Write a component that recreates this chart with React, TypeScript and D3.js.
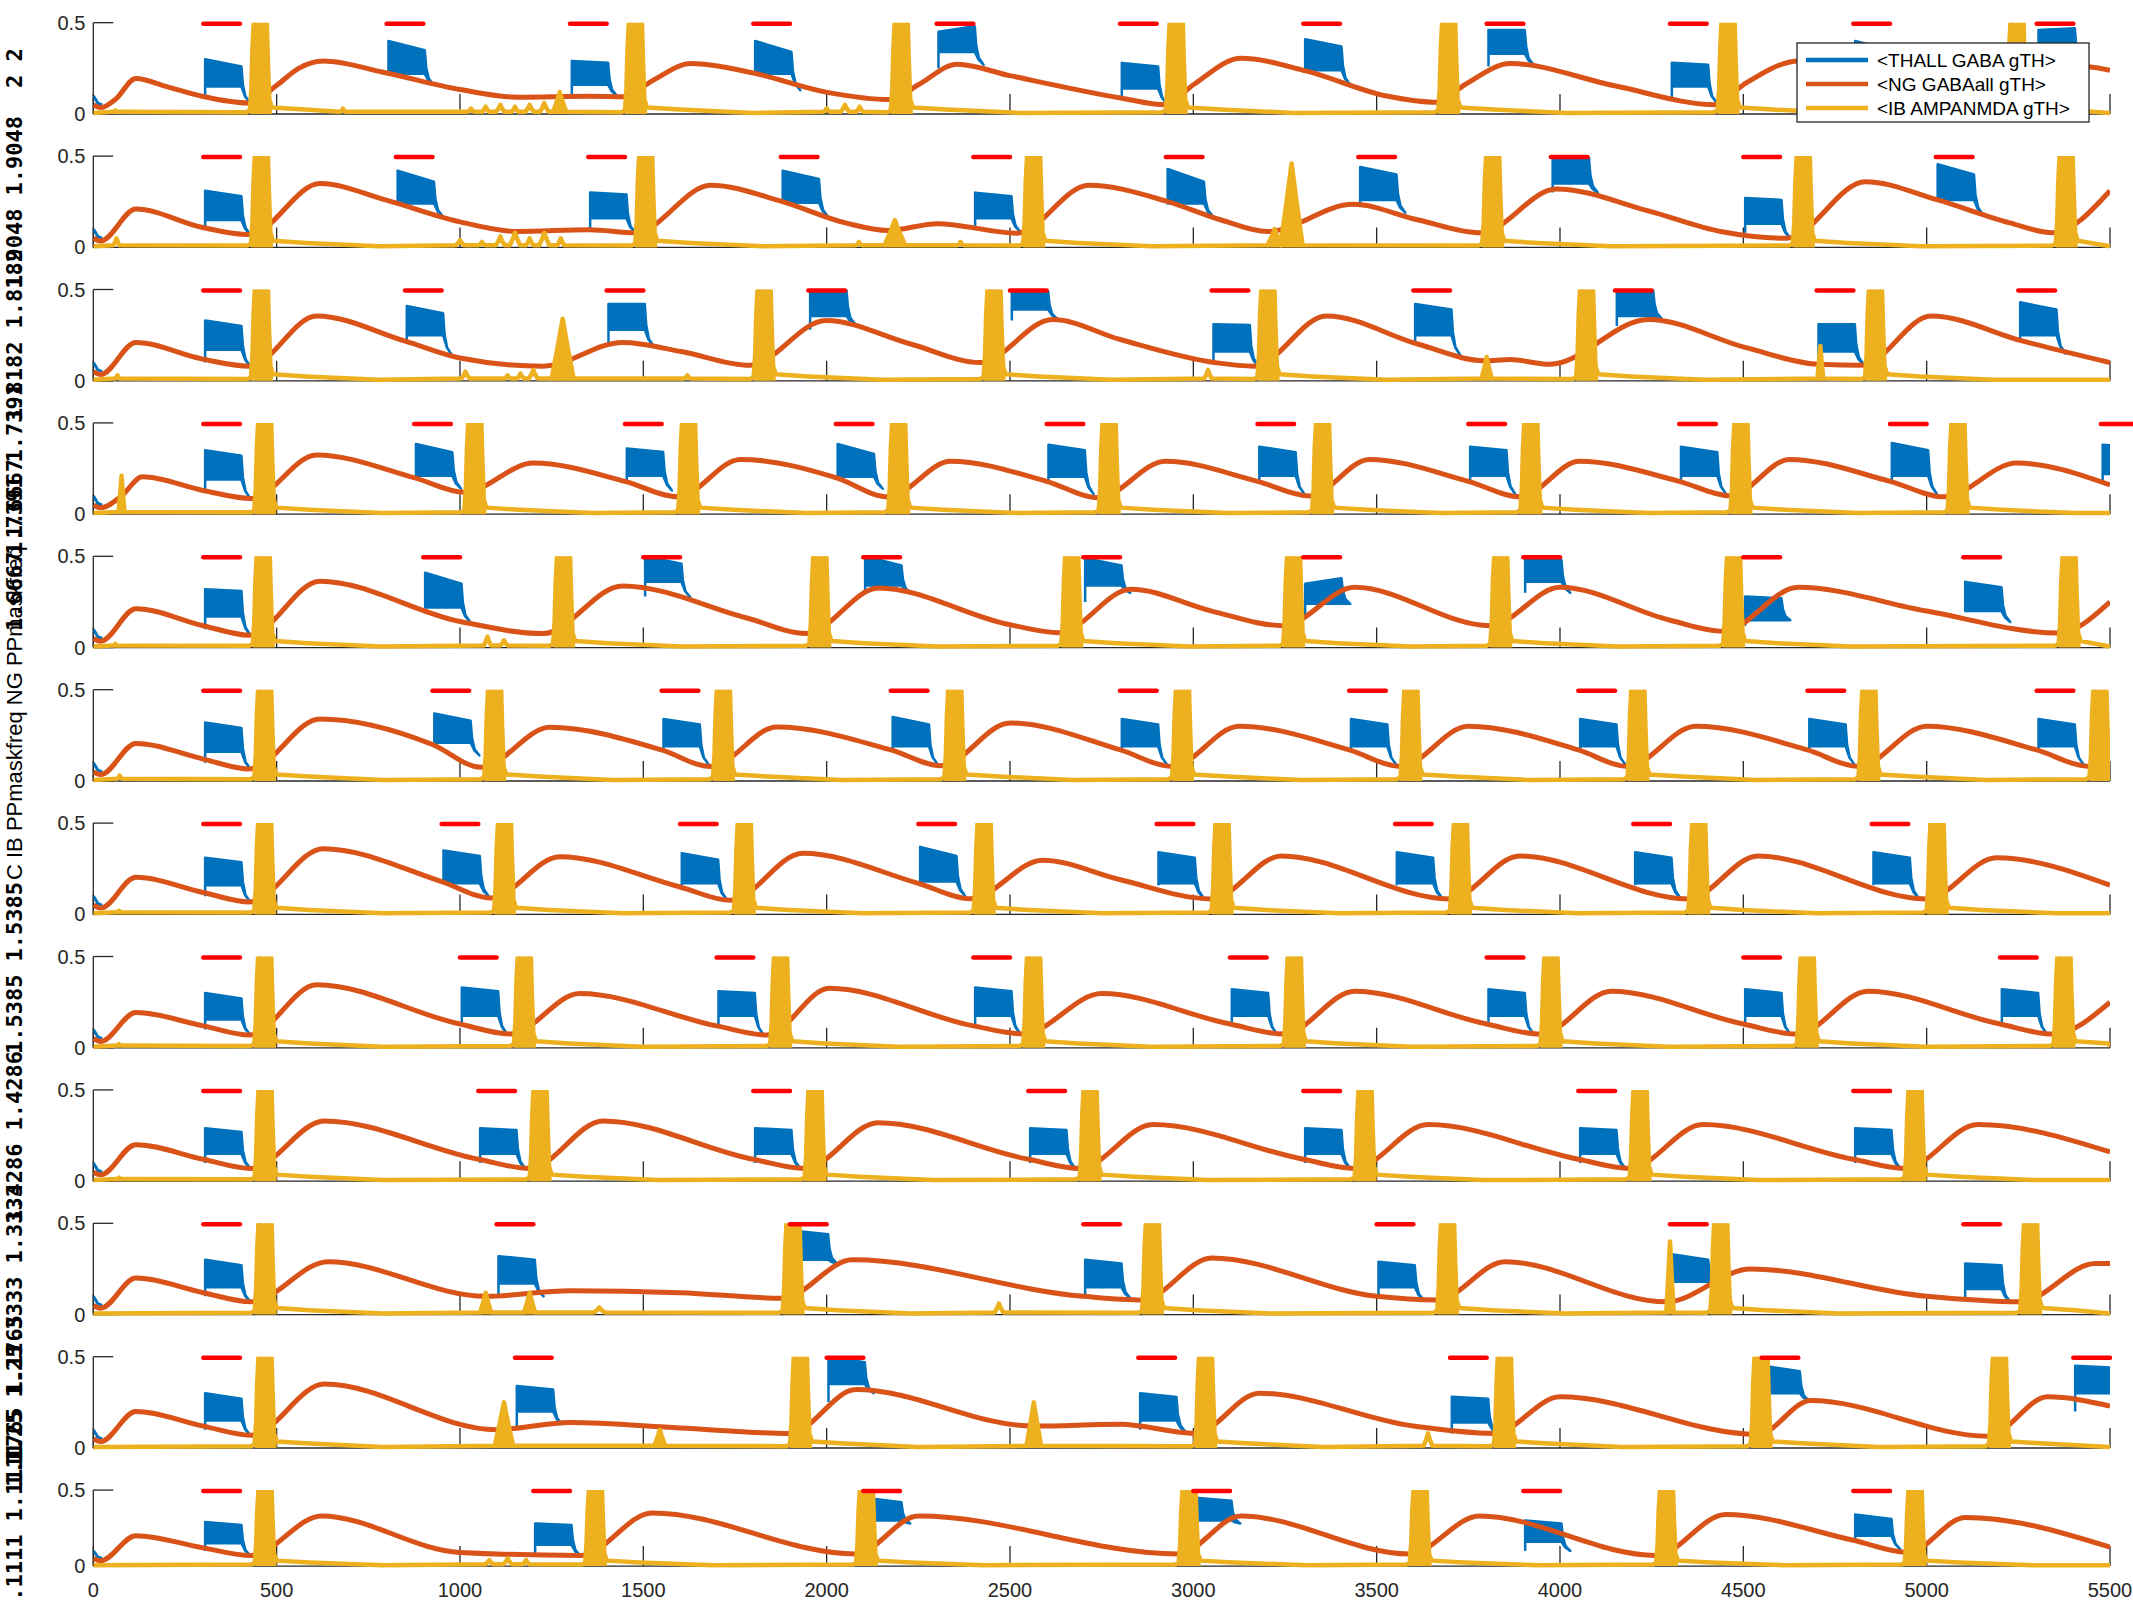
import React, { useEffect, useRef } from 'react';
import * as d3 from 'd3';

// ---- data (times in ms, values in gTH) ----
const panelFreqs = ['2', '1.9048', '1.8182', '1.7391', '1.6667', '1.6', '1.5385', '1.4286', '1.3333', '1.25', '1.1765', '1.1111'];
// where each rotated panel label is centred (px); null = no number label (shared label sits there)
const labelCentres: (number | null)[] = [68, 202, 335, 469, 545, null, 968, 1137, 1270, 1404, 1401, 1528];

const xTickValues = [0, 500, 1000, 1500, 2000, 2500, 3000, 3500, 4000, 4500, 5000, 5500];
const yTickValues = [0, 0.5];
const legendLabels = ['<THALL GABA gTH>', '<NG GABAall gTH>', '<IB AMPANMDA gTH>'];
const sharedLabel = 'C IB PPmaskfreq NG PPmaskfreq';

// stimulus (red bar) onsets for each panel
const stimOnsets: number[][] = [
  [300, 800, 1300, 1800, 2300, 2800, 3300, 3800, 4300, 4800, 5300],
  [300, 825, 1350, 1875, 2400, 2925, 3450, 3975, 4500, 5025],
  [300, 850, 1400, 1950, 2500, 3050, 3600, 4150, 4700, 5250],
  [300, 875, 1450, 2025, 2600, 3175, 3750, 4325, 4900, 5475],
  [300, 900, 1500, 2100, 2700, 3300, 3900, 4500, 5100],
  [300, 925, 1550, 2175, 2800, 3425, 4050, 4675, 5300],
  [300, 950, 1600, 2250, 2900, 3550, 4200, 4850],
  [300, 1000, 1700, 2400, 3100, 3800, 4500, 5200],
  [300, 1050, 1800, 2550, 3300, 4050, 4800],
  [300, 1100, 1900, 2700, 3500, 4300, 5100],
  [300, 1150, 2000, 2850, 3700, 4550, 5400],
  [300, 1200, 2100, 3000, 3900, 4800],
];

// THALL GABA blocks, one per stimulus: [top at start, top at end, lower edge, level under block, level after decay]
const thallBlocks: number[][][] = [
  [[0.30, 0.26, 0.15, 0.10, 0.06], [0.40, 0.35, 0.22, 0.22, 0.16], [0.29, 0.28, 0.16, 0.10, 0.10], [0.40, 0.34, 0.22, 0.22, 0.13], [0.45, 0.48, 0.34, 0.25, 0.27], [0.28, 0.26, 0.14, 0.09, 0.055], [0.41, 0.37, 0.24, 0.235, 0.16], [0.46, 0.46, 0.33, 0.26, 0.27], [0.28, 0.27, 0.15, 0.08, 0.06], [0.40, 0.35, 0.22, 0.25, 0.17], [0.46, 0.47, 0.33, 0.25, 0.27]],
  [[0.31, 0.28, 0.15, 0.10, 0.07], [0.42, 0.36, 0.24, 0.25, 0.17], [0.30, 0.29, 0.16, 0.097, 0.08], [0.42, 0.375, 0.245, 0.255, 0.17], [0.30, 0.28, 0.16, 0.10, 0.085], [0.43, 0.36, 0.24, 0.255, 0.17], [0.44, 0.40, 0.26, 0.236, 0.19], [0.50, 0.49, 0.35, 0.30, 0.30], [0.27, 0.26, 0.13, 0.08, 0.05], [0.455, 0.40, 0.26, 0.26, 0.18]],
  [[0.33, 0.30, 0.17, 0.10, 0.08], [0.41, 0.37, 0.25, 0.217, 0.14], [0.42, 0.42, 0.28, 0.19, 0.19], [0.50, 0.50, 0.355, 0.28, 0.31], [0.50, 0.49, 0.39, 0.33, 0.34], [0.31, 0.305, 0.16, 0.10, 0.08], [0.42, 0.39, 0.25, 0.20, 0.14], [0.50, 0.50, 0.355, 0.30, 0.34], [0.31, 0.31, 0.16, 0.09, 0.09], [0.43, 0.39, 0.25, 0.217, 0.15]],
  [[0.35, 0.32, 0.19, 0.12, 0.086], [0.385, 0.34, 0.21, 0.20, 0.14], [0.36, 0.34, 0.21, 0.18, 0.13], [0.385, 0.33, 0.205, 0.20, 0.14], [0.38, 0.35, 0.205, 0.18, 0.11], [0.37, 0.34, 0.21, 0.18, 0.11], [0.37, 0.35, 0.21, 0.18, 0.11], [0.37, 0.34, 0.21, 0.18, 0.11], [0.39, 0.35, 0.21, 0.18, 0.11], [0.38, 0.37, 0.22, 0.17, 0.15]],
  [[0.32, 0.31, 0.17, 0.10, 0.068], [0.41, 0.35, 0.22, 0.22, 0.14], [0.50, 0.46, 0.36, 0.28, 0.275], [0.50, 0.45, 0.34, 0.30, 0.30], [0.49, 0.45, 0.34, 0.25, 0.30], [0.35, 0.38, 0.24, 0.16, 0.24], [0.50, 0.48, 0.36, 0.30, 0.30], [0.28, 0.27, 0.15, 0.12, 0.15], [0.36, 0.33, 0.20, 0.20, 0.14]],
  [[0.32, 0.29, 0.16, 0.10, 0.066], [0.37, 0.33, 0.21, 0.20, 0.14], [0.34, 0.31, 0.19, 0.17, 0.09], [0.35, 0.31, 0.19, 0.17, 0.09], [0.34, 0.31, 0.19, 0.17, 0.09], [0.34, 0.31, 0.19, 0.17, 0.09], [0.34, 0.31, 0.19, 0.17, 0.09], [0.34, 0.31, 0.19, 0.17, 0.09], [0.34, 0.31, 0.19, 0.17, 0.09]],
  [[0.31, 0.285, 0.16, 0.10, 0.068], [0.35, 0.32, 0.17, 0.17, 0.10], [0.335, 0.30, 0.17, 0.15, 0.08], [0.37, 0.32, 0.18, 0.17, 0.10], [0.34, 0.31, 0.17, 0.16, 0.09], [0.34, 0.31, 0.17, 0.16, 0.09], [0.34, 0.31, 0.17, 0.16, 0.09], [0.34, 0.31, 0.17, 0.16, 0.09]],
  [[0.30, 0.27, 0.155, 0.10, 0.07], [0.33, 0.31, 0.175, 0.13, 0.076], [0.31, 0.30, 0.175, 0.13, 0.07], [0.33, 0.31, 0.175, 0.13, 0.076], [0.32, 0.30, 0.175, 0.13, 0.075], [0.32, 0.30, 0.175, 0.13, 0.075], [0.32, 0.30, 0.175, 0.13, 0.075], [0.32, 0.30, 0.175, 0.13, 0.075]],
  [[0.29, 0.27, 0.15, 0.10, 0.07], [0.29, 0.28, 0.15, 0.10, 0.07], [0.29, 0.28, 0.15, 0.10, 0.07], [0.29, 0.28, 0.15, 0.10, 0.07], [0.29, 0.28, 0.15, 0.10, 0.07], [0.29, 0.28, 0.15, 0.10, 0.07], [0.29, 0.28, 0.15, 0.10, 0.07]],
  [[0.30, 0.27, 0.15, 0.10, 0.07], [0.32, 0.30, 0.17, 0.10, 0.10], [0.46, 0.44, 0.30, 0.20, 0.28], [0.30, 0.28, 0.15, 0.10, 0.09], [0.29, 0.27, 0.15, 0.10, 0.08], [0.33, 0.30, 0.18, 0.08, 0.17], [0.28, 0.27, 0.14, 0.08, 0.07]],
  [[0.30, 0.27, 0.15, 0.10, 0.07], [0.34, 0.32, 0.20, 0.12, 0.13], [0.50, 0.47, 0.35, 0.25, 0.30], [0.30, 0.28, 0.15, 0.10, 0.09], [0.28, 0.27, 0.14, 0.08, 0.08], [0.45, 0.42, 0.30, 0.15, 0.26], [0.45, 0.44, 0.30, 0.20, 0.30]],
  [[0.29, 0.27, 0.15, 0.10, 0.07], [0.28, 0.27, 0.14, 0.08, 0.07], [0.45, 0.42, 0.30, 0.20, 0.28], [0.45, 0.43, 0.30, 0.20, 0.28], [0.30, 0.28, 0.16, 0.10, 0.10], [0.34, 0.31, 0.20, 0.17, 0.11]],
];

// initial THALL transient at t = 0
const thallStart = [[0, 0.1], [5, 0.085], [12, 0.06], [24, 0.05]];

// IB AMPANMDA burst onsets (bursts saturate above the 0.5 axis limit)
const ibSpikes: number[][] = [
  [427, 1450, 2175, 2925, 3668, 4430, 5218],
  [430, 1478, 2536, 3788, 4635, 5352],
  [430, 1801, 2428, 3175, 4044, 4832],
  [439, 1012, 1595, 2168, 2742, 3324, 3892, 4465, 5057],
  [435, 1254, 1953, 2640, 3245, 3810, 4445, 5360],
  [439, 1066, 1690, 2321, 2942, 3565, 4184, 4814, 5444],
  [439, 1093, 1747, 2401, 3050, 3700, 4350, 5000],
  [439, 1147, 1846, 2536, 3247, 3947, 4646, 5346],
  [440, 1190, 1940, 2690, 3440, 4190, 4940],
  [440, 1880, 2860, 3665, 4410, 5255],
  [440, 1900, 3005, 3820, 4520, 5170],
  [440, 1341, 2080, 2960, 3590, 4262, 4940],
];

// one burst profile: [ms after onset, value]
const spikeProfile = [[-10, 0.01], [0, 0.02], [4, 0.14], [7, 0.36], [11, 0.52], [21, 0.52], [25, 0.37], [29, 0.52], [46, 0.52], [49, 0.3], [53, 0.08], [60, 0.036], [150, 0.024], [350, 0.006]];

// smaller IB events: [time, peak, half width]
const ibBumps: number[][][] = [
  [[60, 0.02, 6], [681, 0.03, 8], [1030, 0.03, 10], [1070, 0.04, 10], [1110, 0.05, 12], [1150, 0.04, 10], [1190, 0.05, 12], [1230, 0.06, 12], [1272, 0.12, 18], [2000, 0.03, 10], [2050, 0.05, 12], [2090, 0.04, 10]],
  [[63, 0.05, 8], [1000, 0.04, 12], [1060, 0.03, 10], [1110, 0.06, 12], [1150, 0.08, 14], [1190, 0.05, 10], [1230, 0.08, 14], [1275, 0.05, 10], [2088, 0.03, 8], [2186, 0.15, 28], [2365, 0.03, 8], [3222, 0.1, 20], [3268, 0.46, 30]],
  [[66, 0.03, 8], [1015, 0.05, 12], [1130, 0.03, 10], [1165, 0.04, 10], [1200, 0.06, 12], [1280, 0.34, 30], [1620, 0.03, 10], [3040, 0.06, 10], [3800, 0.13, 14], [4710, 0.19, 8]],
  [[77, 0.21, 8]],
  [[60, 0.02, 6], [1075, 0.06, 10], [1120, 0.04, 10]],
  [[72, 0.03, 8]],
  [[70, 0.02, 6]],
  [[70, 0.02, 6]],
  [[70, 0.02, 6]],
  [[1070, 0.12, 15], [1190, 0.12, 15], [1380, 0.04, 15], [2470, 0.06, 12], [4300, 0.4, 10]],
  [[1120, 0.25, 25], [1545, 0.1, 15], [2565, 0.25, 20], [3640, 0.08, 12]],
  [[1080, 0.04, 12], [1130, 0.05, 12], [1180, 0.04, 10]],
];

// NG GABAall slow conductance, key points [ms, value]
const ngPoints: number[][][] = [
  [[0, 0.05], [20, 0.035], [60, 0.08], [116, 0.195], [200, 0.15], [296, 0.097], [426, 0.06], [502, 0.16], [560, 0.25], [627, 0.29], [797, 0.226], [1000, 0.134], [1156, 0.092], [1353, 0.097], [1450, 0.095], [1523, 0.18], [1630, 0.276], [1797, 0.226], [1998, 0.12], [2175, 0.079], [2250, 0.16], [2356, 0.272], [2500, 0.21], [2801, 0.088], [2924, 0.05], [3000, 0.16], [3130, 0.305], [3309, 0.235], [3524, 0.1], [3665, 0.064], [3740, 0.16], [3865, 0.276], [4152, 0.153], [4425, 0.051], [4500, 0.16], [4653, 0.29], [4900, 0.23], [5215, 0.15], [5290, 0.2], [5400, 0.265], [5500, 0.24]],
  [[0, 0.05], [20, 0.035], [116, 0.21], [296, 0.11], [426, 0.07], [618, 0.35], [797, 0.26], [1000, 0.14], [1156, 0.087], [1353, 0.097], [1478, 0.08], [1684, 0.34], [1873, 0.255], [2052, 0.134], [2168, 0.093], [2303, 0.13], [2518, 0.078], [2715, 0.34], [2924, 0.255], [3076, 0.15], [3202, 0.087], [3435, 0.236], [3614, 0.15], [3784, 0.08], [3990, 0.32], [4241, 0.2], [4438, 0.087], [4618, 0.05], [4833, 0.36], [5030, 0.26], [5227, 0.134], [5343, 0.08], [5500, 0.31]],
  [[0, 0.05], [20, 0.035], [116, 0.21], [296, 0.12], [426, 0.08], [609, 0.355], [851, 0.217], [1000, 0.125], [1227, 0.08], [1443, 0.21], [1604, 0.16], [1790, 0.085], [1998, 0.33], [2231, 0.2], [2419, 0.1], [2616, 0.336], [2801, 0.226], [3058, 0.1], [3166, 0.08], [3363, 0.355], [3614, 0.2], [3793, 0.11], [3865, 0.116], [3972, 0.09], [4241, 0.336], [4510, 0.18], [4707, 0.09], [4824, 0.085], [5012, 0.355], [5263, 0.217], [5500, 0.1]],
  [[0, 0.05], [20, 0.035], [77, 0.1], [134, 0.205], [300, 0.13], [430, 0.086], [609, 0.324], [875, 0.2], [1012, 0.12], [1200, 0.28], [1450, 0.18], [1595, 0.095], [1765, 0.3], [2025, 0.2], [2168, 0.095], [2338, 0.29], [2600, 0.18], [2742, 0.09], [2924, 0.29], [3175, 0.18], [3318, 0.1], [3480, 0.3], [3750, 0.18], [3892, 0.095], [4053, 0.29], [4325, 0.18], [4465, 0.1], [4626, 0.3], [4900, 0.18], [5048, 0.095], [5245, 0.28], [5500, 0.16]],
  [[0, 0.05], [20, 0.035], [116, 0.213], [300, 0.12], [426, 0.068], [618, 0.364], [1000, 0.143], [1227, 0.077], [1443, 0.338], [1783, 0.162], [1944, 0.077], [2141, 0.326], [2500, 0.125], [2634, 0.081], [2830, 0.32], [3050, 0.2], [3245, 0.12], [3440, 0.33], [3810, 0.12], [4000, 0.33], [4300, 0.15], [4445, 0.09], [4650, 0.33], [5000, 0.2], [5360, 0.08], [5500, 0.25]],
  [[0, 0.05], [20, 0.035], [116, 0.206], [300, 0.12], [426, 0.066], [618, 0.34], [925, 0.2], [1057, 0.075], [1245, 0.294], [1550, 0.17], [1684, 0.079], [1864, 0.296], [2175, 0.17], [2312, 0.084], [2500, 0.318], [2801, 0.17], [2942, 0.08], [3125, 0.3], [3425, 0.17], [3565, 0.08], [3750, 0.3], [4050, 0.17], [4184, 0.08], [4370, 0.3], [4675, 0.17], [4814, 0.08], [5000, 0.3], [5300, 0.17], [5444, 0.08], [5500, 0.14]],
  [[0, 0.05], [20, 0.035], [116, 0.203], [300, 0.12], [426, 0.068], [627, 0.36], [950, 0.18], [1084, 0.09], [1272, 0.316], [1600, 0.15], [1738, 0.077], [1935, 0.335], [2250, 0.17], [2392, 0.086], [2589, 0.297], [2801, 0.19], [3050, 0.085], [3240, 0.32], [3700, 0.085], [3890, 0.32], [4350, 0.085], [4540, 0.32], [5000, 0.085], [5190, 0.31], [5500, 0.16]],
  [[0, 0.05], [20, 0.035], [116, 0.193], [300, 0.12], [426, 0.07], [609, 0.345], [1000, 0.13], [1138, 0.076], [1326, 0.297], [1700, 0.12], [1837, 0.07], [2007, 0.326], [2400, 0.12], [2536, 0.076], [2750, 0.297], [3100, 0.13], [3247, 0.075], [3440, 0.31], [3800, 0.13], [3947, 0.075], [4140, 0.31], [4500, 0.13], [4646, 0.075], [4840, 0.31], [5200, 0.13], [5346, 0.075], [5500, 0.25]],
  [[0, 0.05], [20, 0.035], [116, 0.2], [300, 0.12], [430, 0.07], [630, 0.33], [1050, 0.12], [1190, 0.07], [1390, 0.33], [1800, 0.12], [1940, 0.07], [2140, 0.32], [2550, 0.12], [2690, 0.07], [2890, 0.31], [3300, 0.12], [3440, 0.07], [3640, 0.31], [4050, 0.12], [4190, 0.07], [4390, 0.31], [4800, 0.12], [4940, 0.07], [5140, 0.31], [5500, 0.16]],
  [[0, 0.05], [20, 0.035], [116, 0.2], [300, 0.12], [430, 0.07], [640, 0.29], [1070, 0.1], [1300, 0.13], [1600, 0.12], [1880, 0.09], [2070, 0.3], [2700, 0.1], [2860, 0.08], [3050, 0.31], [3500, 0.1], [3665, 0.08], [3850, 0.29], [4290, 0.07], [4520, 0.25], [5000, 0.1], [5255, 0.07], [5460, 0.28], [5500, 0.28]],
  [[0, 0.05], [20, 0.035], [116, 0.2], [300, 0.12], [430, 0.07], [630, 0.35], [1100, 0.1], [1300, 0.14], [1600, 0.11], [1900, 0.08], [2080, 0.32], [2565, 0.12], [2800, 0.13], [3005, 0.08], [3180, 0.3], [3600, 0.12], [3820, 0.08], [4000, 0.28], [4540, 0.075], [4684, 0.26], [5168, 0.065], [5330, 0.28], [5500, 0.23]],
  [[0, 0.05], [20, 0.035], [116, 0.2], [300, 0.12], [430, 0.07], [622, 0.33], [1000, 0.09], [1330, 0.07], [1524, 0.35], [2080, 0.08], [2250, 0.33], [2960, 0.08], [3130, 0.33], [3590, 0.08], [3780, 0.33], [4262, 0.07], [4452, 0.34], [4800, 0.17], [4950, 0.09], [5106, 0.32], [5500, 0.125]],
];

const C_THALL = '#0072BD';
const C_NG = '#D95319';
const C_IB = '#EDB120';
const C_STIM = '#FF0000';
const AXIS = '#262626';

const bumpShape = (t: number, h: number, w: number) =>
  [[t - w, 0.012], [t - w * 0.4, h * 0.6], [t, h], [t + w * 0.4, h * 0.6], [t + w, 0.012]];

function ibTrace(spikes: number[], bumps: number[][]): number[][] {
  const events = [
    ...spikes.map(s => spikeProfile.map(([dt, v]) => [s + dt, v])),
    ...bumps.map(([t, h, w]) => bumpShape(t, h, w)),
  ].sort((a, b) => a[0][0] - b[0][0]);
  let pts: number[][] = [[0, 0.006]];
  events.forEach(ev => {
    const start = ev[0][0];
    pts = pts.filter(p => p[0] < start);
    pts.push(...ev);
  });
  pts = pts.filter(p => p[0] <= 5500);
  if (pts[pts.length - 1][0] < 5500) pts.push([5500, 0.006]);
  return pts;
}

const App: React.FC = () => {
  const svgRef = useRef<SVGSVGElement>(null);

  useEffect(() => {
    if (!svgRef.current) return;
    const svg = d3.select(svgRef.current);
    svg.selectAll('*').remove();

    svg.append('rect').attr('width', 2133).attr('height', 1600).attr('fill', '#fff');

    const x = d3.scaleLinear().domain([0, 5500]).range([93.3, 2110]);
    const defs = svg.append('defs');

    // rotated y labels (drawn first, they overlap each other as in the original)
    svg.append('text')
      .attr('transform', 'translate(22,880) rotate(-90)')
      .attr('text-anchor', 'start').attr('fill', '#000')
      .style('font-family', '"Liberation Sans", Arial, sans-serif').style('font-size', '22px')
      .text(sharedLabel);

    panelFreqs.forEach((f, k) => {
      const top = 22.7 + 133.4 * k;
      const h = k === 11 ? 76 : 91.3;
      const y = d3.scaleLinear().domain([0, 0.5]).range([top + h, top]);
      const g = svg.append('g');

      // axes
      g.append('line').attr('x1', x(0)).attr('x2', x(5500)).attr('y1', y(0)).attr('y2', y(0))
        .attr('stroke', AXIS).attr('stroke-width', 1.3);
      g.append('line').attr('x1', x(0)).attr('x2', x(0)).attr('y1', y(0)).attr('y2', y(0.5))
        .attr('stroke', AXIS).attr('stroke-width', 1.3);
      g.selectAll('.xt').data(xTickValues).enter().append('line')
        .attr('x1', d => x(d)).attr('x2', d => x(d)).attr('y1', y(0)).attr('y2', y(0) - 20)
        .attr('stroke', AXIS).attr('stroke-width', 1.3);
      g.selectAll('.yt').data(yTickValues).enter().append('line')
        .attr('x1', x(0)).attr('x2', x(0) + 20).attr('y1', d => y(d)).attr('y2', d => y(d))
        .attr('stroke', AXIS).attr('stroke-width', 1.3);
      g.selectAll('.ytl').data(yTickValues).enter().append('text')
        .attr('x', x(0) - 8).attr('y', d => y(d) + 7)
        .attr('text-anchor', 'end').attr('fill', AXIS)
        .style('font-family', '"Liberation Sans", Arial, sans-serif').style('font-size', '20px')
        .text(d => String(d));
      if (k === 11) {
        g.selectAll('.xtl').data(xTickValues).enter().append('text')
          .attr('x', d => x(d)).attr('y', 1597)
          .attr('text-anchor', 'middle').attr('fill', AXIS)
          .style('font-family', '"Liberation Sans", Arial, sans-serif').style('font-size', '20px')
          .text(d => String(d));
      }

      // panel label
      const lc = labelCentres[k];
      if (lc !== null) {
        g.append('text')
          .attr('transform', `translate(22,${lc}) rotate(-90)`)
          .attr('text-anchor', 'middle').attr('fill', '#000')
          .style('font-family', '"DejaVu Sans Mono", monospace').style('font-weight', 'bold').style('font-size', '22px')
          .text(`${f} ${f}`);
      }

      // clipping to axes
      const clipId = `clip${k}`;
      defs.append('clipPath').attr('id', clipId).append('rect')
        .attr('x', x(0)).attr('y', top).attr('width', x(5500) - x(0)).attr('height', h + 4);
      const plot = g.append('g').attr('clip-path', `url(#${clipId})`);

      // THALL GABA
      const lineLin = d3.line<number[]>().x(d => x(d[0])).y(d => y(d[1]));
      plot.append('path').datum(thallStart).attr('d', lineLin)
        .attr('fill', 'none').attr('stroke', C_THALL).attr('stroke-width', 3);
      stimOnsets[k].forEach((t, i) => {
        const [top0, top1, low, base, tail] = thallBlocks[k][i];
        const poly = [
          [t + 5, top0], [t + 104, top1],
          [t + 108, top1 - (top1 - tail) * 0.5], [t + 115, tail + (top1 - tail) * 0.18], [t + 128, tail],
          [t + 114, low - (low - tail) * 0.6], [t + 104, low], [t + 5, low],
        ];
        plot.append('path').datum(poly).attr('d', d => lineLin(d) + 'Z')
          .attr('fill', C_THALL).attr('stroke', C_THALL).attr('stroke-width', 2.5).attr('stroke-linejoin', 'round');
        plot.append('line').attr('x1', x(t + 5)).attr('x2', x(t + 5)).attr('y1', y(base)).attr('y2', y(low))
          .attr('stroke', C_THALL).attr('stroke-width', 2.5);
      });

      // NG GABAall
      const ngLine = d3.line<number[]>().x(d => x(d[0])).y(d => y(d[1])).curve(d3.curveMonotoneX);
      plot.append('path').datum(ngPoints[k]).attr('d', ngLine)
        .attr('fill', 'none').attr('stroke', C_NG).attr('stroke-width', 5).attr('stroke-linejoin', 'round');

      // IB AMPANMDA: bursts are dense oscillations, drawn as filled columns plus the trace
      const ibArea = d3.area<number[]>().x(d => x(d[0])).y0(y(0)).y1(d => y(d[1]));
      ibSpikes[k].forEach(s => {
        const body = spikeProfile.filter(([dt]) => dt >= 0 && dt <= 60).map(([dt, v]) => [s + dt, v]);
        plot.append('path').datum(body).attr('d', ibArea).attr('fill', C_IB);
      });
      ibBumps[k].filter(b => b[1] >= 0.1).forEach(([t, hh, w]) => {
        plot.append('path').datum(bumpShape(t, hh, w)).attr('d', ibArea).attr('fill', C_IB);
      });
      plot.append('path').datum(ibTrace(ibSpikes[k], ibBumps[k])).attr('d', lineLin)
        .attr('fill', 'none').attr('stroke', C_IB).attr('stroke-width', 4.5).attr('stroke-linejoin', 'round');

      // stimulus bars
      g.selectAll('.stim').data(stimOnsets[k]).enter().append('line')
        .attr('x1', d => x(d)).attr('x2', d => x(d + 100))
        .attr('y1', y(0.5) + 1).attr('y2', y(0.5) + 1)
        .attr('stroke', C_STIM).attr('stroke-width', 4.5).attr('stroke-linecap', 'round');
    });

    // legend
    const lg = svg.append('g');
    lg.append('rect').attr('x', 1797).attr('y', 43).attr('width', 292).attr('height', 79)
      .attr('fill', '#fff').attr('stroke', AXIS).attr('stroke-width', 1.3);
    const legendColors = [C_THALL, C_NG, C_IB];
    legendLabels.forEach((lab, i) => {
      const ly = 60 + i * 24;
      lg.append('line').attr('x1', 1806).attr('x2', 1868).attr('y1', ly).attr('y2', ly)
        .attr('stroke', legendColors[i]).attr('stroke-width', 4.5);
      lg.append('text').attr('x', 1877).attr('y', ly + 7).attr('fill', '#000')
        .style('font-family', '"Liberation Sans", Arial, sans-serif').style('font-size', '19px')
        .text(lab);
    });
  }, []);

  return (
    <div style={{ position: 'absolute', left: 0, top: 0 }}>
      <svg ref={svgRef} width={2133} height={1600}></svg>
    </div>
  );
};

export default App;
